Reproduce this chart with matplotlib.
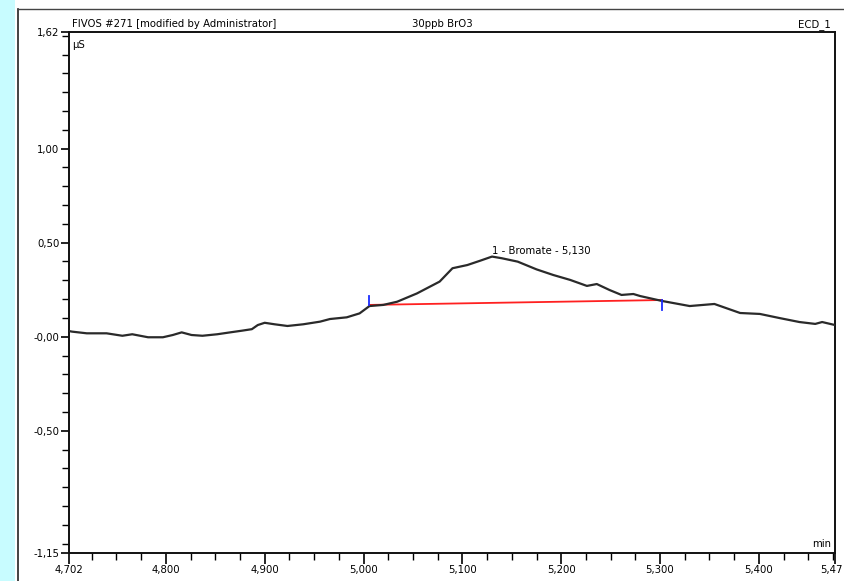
import matplotlib
matplotlib.use("Agg")
import matplotlib.pyplot as plt
from matplotlib.ticker import FixedLocator, MultipleLocator
from matplotlib.lines import Line2D
from matplotlib.patches import Rectangle

# ---- data ----
time_min = [4.702, 4.705, 4.720, 4.740, 4.756, 4.766, 4.774, 4.782, 4.797, 4.807,
            4.816, 4.826, 4.837, 4.852, 4.865, 4.877, 4.887, 4.893, 4.900, 4.910,
            4.923, 4.939, 4.956, 4.966, 4.983, 4.996, 5.006, 5.020, 5.034, 5.054,
            5.077, 5.090, 5.105, 5.118, 5.130, 5.140, 5.156, 5.175, 5.192, 5.209,
            5.226, 5.236, 5.249, 5.261, 5.273, 5.280, 5.302, 5.330, 5.355, 5.381,
            5.401, 5.421, 5.441, 5.457, 5.464, 5.477]
signal_uS = [0.030, 0.027, 0.018, 0.018, 0.005, 0.013, 0.005, -0.003, -0.003, 0.009,
             0.023, 0.009, 0.005, 0.013, 0.023, 0.032, 0.040, 0.062, 0.074, 0.066,
             0.057, 0.066, 0.080, 0.094, 0.103, 0.124, 0.163, 0.169, 0.186, 0.230,
             0.293, 0.364, 0.381, 0.404, 0.426, 0.417, 0.399, 0.358, 0.328, 0.302,
             0.270, 0.280, 0.248, 0.222, 0.227, 0.216, 0.190, 0.163, 0.174, 0.126,
             0.121, 0.099, 0.078, 0.068, 0.078, 0.062]

peak_label = "1 - Bromate - 5,130"
peak_time = 5.130
peak_label_y = 0.457
baseline_t = [5.006, 5.302]
baseline_y = [0.169, 0.195]
marker_start = (5.006, 0.169, 0.216)
marker_end = (5.302, 0.195, 0.142)

x_ticks = [4.702, 4.800, 4.900, 5.000, 5.100, 5.200, 5.300, 5.400, 5.477]
x_tick_labels = ["4,702", "4,800", "4,900", "5,000", "5,100", "5,200", "5,300", "5,400", "5,47"]
y_ticks = [-1.15, -0.50, 0.00, 0.50, 1.00, 1.62]
y_tick_labels = ["-1,15", "-0,50", "-0,00", "0,50", "1,00", "1,62"]

title_left = "FIVOS #271 [modified by Administrator]"
title_mid = "30ppb BrO3"
title_right = "ECD_1"

FS = 7.3

W, H = 845, 581
fig = plt.figure(figsize=(W / 100, H / 100), dpi=100)
fig.patch.set_facecolor("white")

# left cyan strip and outer frame
fig.patches.append(Rectangle((0, 0), 15 / W, 1, transform=fig.transFigure,
                             facecolor="#c8fcff", edgecolor="none", zorder=0))
fig.lines.append(Line2D([17.5 / W, 17.5 / W], [0, 1 - 8.5 / H], transform=fig.transFigure,
                        color="#222222", lw=1.2))
fig.lines.append(Line2D([17.5 / W, 1], [1 - 8.5 / H, 1 - 8.5 / H], transform=fig.transFigure,
                        color="#444444", lw=1.0))

ax = fig.add_axes([69 / W, 1 - 553 / H, (835 - 69) / W, (553 - 32) / H])
ax.set_xlim(4.702, 5.477)
ax.set_ylim(-1.15, 1.62)

ax.plot(time_min, signal_uS, color="#2a2a2a", lw=1.6, solid_joinstyle="round", zorder=3)
ax.plot(baseline_t, baseline_y, color="#ff2020", lw=1.3, zorder=2)
ax.plot([marker_start[0]] * 2, marker_start[1:], color="#1a2cff", lw=1.3, zorder=4)
ax.plot([marker_end[0]] * 2, marker_end[1:], color="#1a2cff", lw=1.3, zorder=4)
ax.text(peak_time, peak_label_y, peak_label, fontsize=FS, ha="left", va="center",
        color="black")

for s in ax.spines.values():
    s.set_linewidth(1.4)
    s.set_color("#111111")

ax.xaxis.set_major_locator(FixedLocator(x_ticks))
ax.set_xticklabels(x_tick_labels)
ax.xaxis.set_minor_locator(MultipleLocator(0.025))
ax.yaxis.set_major_locator(FixedLocator(y_ticks))
ax.set_yticklabels(y_tick_labels)
ax.yaxis.set_minor_locator(MultipleLocator(0.1))

ax.tick_params(axis="x", which="major", direction="out", length=8, width=1.2, labelsize=FS, pad=1)
ax.tick_params(axis="x", which="minor", direction="out", length=5, width=1.0)
ax.tick_params(axis="y", which="major", direction="out", length=6, width=1.2, labelsize=FS, pad=1)
ax.tick_params(axis="y", which="minor", direction="out", length=5, width=1.0)
ax.tick_params(top=False, right=False)

# keep the last x label inside the canvas
last_lbl = ax.get_xticklabels()[-1]
last_lbl.set_horizontalalignment("right")
last_lbl.set_x(last_lbl.get_position()[0])
import matplotlib.transforms as mtrans
last_lbl.set_transform(last_lbl.get_transform() + mtrans.ScaledTranslation(8 / 100, 0, fig.dpi_scale_trans))

ax.text(0.004, 0.985, "µS", transform=ax.transAxes, fontsize=FS, ha="left", va="top")
ax.text(0.995, 0.008, "min", transform=ax.transAxes, fontsize=FS, ha="right", va="bottom")

fig.text(72 / W, 1 - 27 / H, title_left, fontsize=FS, ha="left", va="baseline")
fig.text(412 / W, 1 - 27 / H, title_mid, fontsize=FS, ha="left", va="baseline")
fig.text(831 / W, 1 - 27 / H, title_right, fontsize=FS, ha="right", va="baseline")

fig.savefig("out.png", dpi=100)
